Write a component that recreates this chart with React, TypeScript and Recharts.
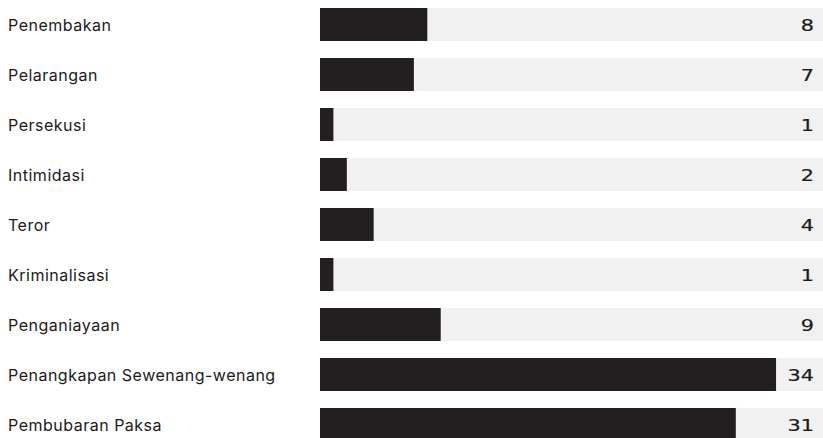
import { BarChart, Bar, XAxis, YAxis, LabelList } from 'recharts'

const categories = [
  'Penembakan',
  'Pelarangan',
  'Persekusi',
  'Intimidasi',
  'Teror',
  'Kriminalisasi',
  'Penganiayaan',
  'Penangkapan Sewenang-wenang',
  'Pembubaran Paksa',
]
const counts = [8, 7, 1, 2, 4, 1, 9, 34, 31]

const data = categories.map((name, i) => ({ name, value: counts[i] }))

const CategoryTick = ({ y, payload }: any) => (
  <text
    x={8}
    y={y}
    dy={6.5}
    textAnchor="start"
    fontFamily="Inter, 'Noto Sans', sans-serif"
    fontSize={16}
    letterSpacing={0.5}
    fill="#1a1a1a"
  >
    {payload.value}
  </text>
)

// wide display digits, stretched horizontally
const ValueLabel = ({ y, height, value }: any) => (
  <text
    transform={`translate(814, ${y + height / 2 + 6}) scale(1.3, 1)`}
    textAnchor="end"
    fontFamily="'DejaVu Sans', sans-serif"
    fontSize={16}
    fill="#1a1a1a"
    stroke="#1a1a1a"
    strokeWidth={0.2}
  >
    {value}
  </text>
)

export default function App() {
  return (
    <div style={{ position: 'absolute', left: 0, top: -1 }}>
      <BarChart
        width={823}
        height={450}
        data={data}
        layout="vertical"
        margin={{ top: 0, right: 0, bottom: 0, left: 0 }}
        barCategoryGap={0}
      >
        <XAxis type="number" domain={[0, 37.5]} hide />
        <YAxis
          type="category"
          dataKey="name"
          width={320}
          axisLine={false}
          tickLine={false}
          tick={<CategoryTick />}
          interval={0}
        />
        <Bar
          dataKey="value"
          fill="#231f20"
          barSize={33}
          background={{ fill: '#f1f1f1' }}
          isAnimationActive={false}
        >
          <LabelList dataKey="value" content={<ValueLabel />} />
        </Bar>
      </BarChart>
    </div>
  )
}
